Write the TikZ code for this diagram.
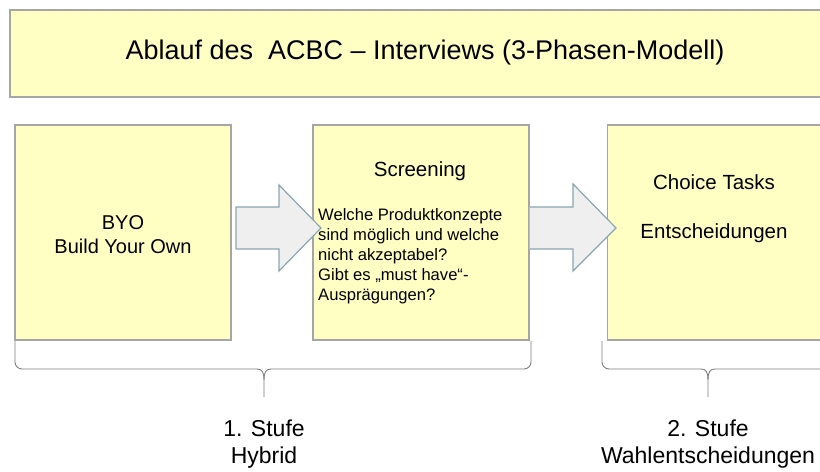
\documentclass[tikz,border=0pt]{standalone}
\usepackage{fontspec}
\setmainfont{Liberation Sans}
\begin{document}
\begin{tikzpicture}[x=1bp,y=-1bp,
  panel/.style={draw=boxline, fill=boxfill, line width=1.2bp, inner sep=0pt},
  blockarrow/.style={draw=arrline, fill=arrfill, line width=1.2bp, line join=miter},
  bracepath/.style={draw=braceline, line width=0.9bp},
  lbl/.style={align=center, inner sep=0pt}]
\definecolor{boxfill}{HTML}{FFFFC4}
\definecolor{boxline}{HTML}{A6A6A6}
\definecolor{arrfill}{HTML}{EFEFF0}
\definecolor{arrline}{HTML}{8AA6AE}
\definecolor{braceline}{HTML}{7F7F7F}
\useasboundingbox (0,0) rectangle (820,472);
\fill[white] (0,0) rectangle (820,472);

% title
\node[panel, minimum width=830bp, minimum height=87bp] (title) at (425,53.5) {};
\node[lbl, font=\fontsize{27bp}{32bp}\selectfont] (titletext) at (425,53) {Ablauf des\ \ ACBC – Interviews (3-Phasen-Modell)};

% boxes
\node[panel, minimum width=216bp, minimum height=215bp] (byo) at (123,232.5) {};
\node[panel, minimum width=216bp, minimum height=215bp] (scr) at (421,232.5) {};
\node[panel, minimum width=230bp, minimum height=215bp, anchor=west] (cho) at (607,232.5) {};

\node[lbl, font=\fontsize{20bp}{24bp}\selectfont] (byotext) at (123,235) {BYO\\Build Your Own};
\node[lbl, font=\fontsize{20.5bp}{24bp}\selectfont] (scrhead) at (420,171) {Screening};
\node[lbl, align=left, anchor=north west, font=\fontsize{16.6bp}{20bp}\selectfont] (scrbody) at (318,208)
  {Welche Produktkonzepte\\sind möglich und welche\\nicht akzeptabel?\\Gibt es „must have“-\\Ausprägungen?};
\node[lbl, font=\fontsize{20.5bp}{24bp}\selectfont] (chohead) at (714,182) {Choice Tasks};
\node[lbl, font=\fontsize{20.5bp}{24bp}\selectfont] (chosub) at (714,233) {Entscheidungen};

% block arrows
\draw[blockarrow] (236,207) -- (279,207) -- (279,185) -- (321,228) -- (279,271) -- (279,249) -- (236,249) -- cycle;
\draw[blockarrow] (529.5,207) -- (573,207) -- (573,184) -- (616,228) -- (573,271) -- (573,249) -- (529.5,249);

% braces
\draw[bracepath] (15,341) -- (15,362) to[out=-90,in=180] (22,369) -- (257,369)
   .. controls (262,369) and (264,372) .. (264,380) -- (264,397);
\draw[bracepath] (264,380) .. controls (264,372) and (266,369) .. (271,369) -- (524,369)
   to[out=0,in=-90] (531,362) -- (531,341);
\draw[bracepath] (602,341) -- (602,362) to[out=-90,in=180] (609,369) -- (701,369)
   .. controls (706,369) and (708,372) .. (708,380) -- (708,397);
\draw[bracepath] (708,380) .. controls (708,372) and (710,369) .. (715,369) -- (825,369);

% bottom labels
\node[lbl, font=\fontsize{23bp}{27bp}\selectfont] (stufe1) at (264,444) {1. Stufe\\Hybrid};
\node[lbl, font=\fontsize{23bp}{27bp}\selectfont] (stufe2) at (708,444) {2. Stufe\\Wahlentscheidungen};
\end{tikzpicture}
\end{document}
